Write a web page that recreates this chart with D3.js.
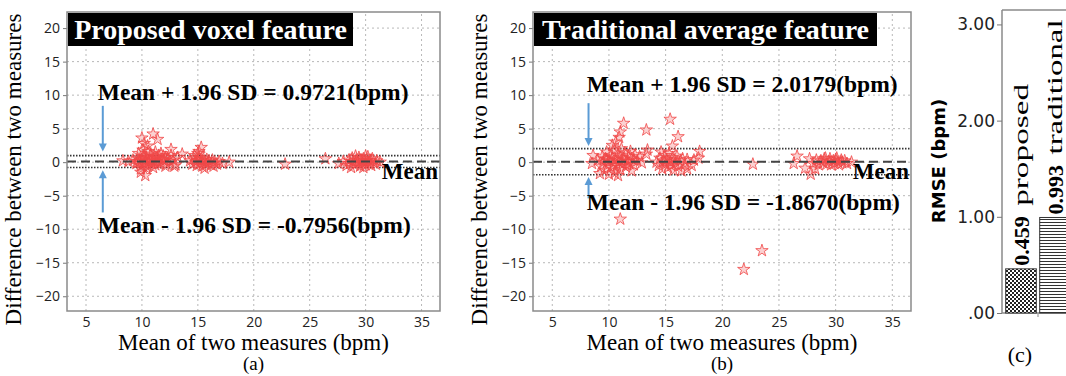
<!DOCTYPE html>
<html>
<head>
<meta charset="utf-8">
<script src="https://cdn.jsdelivr.net/npm/d3@7"></script>
<style>
  body { margin: 0; background: #fff; }
  svg { display: block; }
</style>
</head>
<body>
<div id="chart"></div>
<script>
// ---- data ----
const xTicks = [5, 10, 15, 20, 25, 30, 35];
const yTicks = [-20, -15, -10, -5, 0, 5, 10, 15, 20];

// proposed voxel feature: [mean of two measures, difference]
const proposedPoints = [
  [9.2,0.3],[9.5,-0.2],[9.6,0.6],[9.8,0.1],[9.9,-0.5],[10.0,0.4],[10.1,0.9],[10.2,-0.3],[10.3,0.2],
  [10.4,0.7],[10.5,-0.6],[10.6,0.0],[10.7,0.5],[10.8,1.2],[10.9,-0.2],[11.0,0.3],[11.1,0.8],[11.2,-0.4],
  [11.3,0.1],[11.4,0.6],[11.5,1.0],[11.6,-0.1],[11.8,0.4],[11.9,0.9],[12.0,0.2],[12.2,-0.3],[12.3,0.6],
  [12.5,0.1],[12.6,1.0],[12.8,0.3],[9.7,1.3],[10.1,1.8],[10.6,1.6],[11.2,1.5],[11.7,1.3],[10.4,-0.9],
  [9.9,-1.0],[11.0,-0.8],[12.1,-0.6],[12.9,-0.6],[13.2,0.7],[13.6,1.2],[12.6,1.9],[8.8,0.1],[8.3,0.2],
  [10.0,3.6],[10.2,2.8],[11.0,4.2],[11.4,3.4],[10.5,2.4],[10.3,-2.0],[9.9,-1.5],[13.0,-0.4],
  [9.6,0.0],[10.2,0.6],[10.8,0.2],[11.4,-0.2],[12.1,0.7],
  [14.3,0.2],[14.5,-0.3],[14.6,0.5],[14.8,0.0],[14.9,-0.5],[15.0,0.3],[15.1,0.7],[15.2,-0.2],[15.3,0.2],
  [15.4,-0.6],[15.5,0.5],[15.6,0.0],[15.7,-0.3],[15.8,0.4],[15.9,-0.1],[16.0,0.2],[16.2,-0.4],[16.3,0.3],
  [16.5,0.0],[16.7,-0.3],[16.9,0.1],[17.2,-0.2],[17.8,0.0],[15.0,1.3],[15.3,2.2],[15.1,1.6],[14.7,1.0],
  [15.6,-0.9],[16.4,-0.6],
  [22.8,-0.3],[26.4,0.5],
  [27.6,-0.2],[28.0,0.1],[28.3,-0.5],[28.5,0.3],[28.6,-0.2],[28.8,0.6],[28.9,0.0],[29.0,-0.4],[29.2,0.3],
  [29.3,-0.1],[29.4,0.7],[29.5,-0.6],[29.6,0.2],[29.7,-0.2],[29.8,0.5],[29.9,0.0],[30.0,-0.4],[30.1,0.3],
  [30.2,0.8],[30.3,-0.1],[30.4,0.2],[30.5,-0.5],[30.6,0.5],[30.7,0.0],[30.9,-0.3],[31.0,0.2],[31.3,0.0],
  [28.7,-0.8],[29.1,0.9],[30.0,0.9],[29.8,-0.8]
];

// traditional average feature
const traditionalPoints = [
  [8.5,-0.2],[8.6,1.0],[9.0,0.3],[9.3,-0.6],[9.4,0.8],[9.5,0.0],[9.6,-1.2],[9.7,0.5],[9.8,1.5],[9.9,-0.4],
  [10.0,0.2],[10.1,1.0],[10.2,-0.8],[10.3,0.6],[10.4,-0.1],[10.5,1.8],[10.5,-1.6],[10.6,0.3],[10.7,-0.5],
  [10.8,1.2],[10.9,0.0],[11.0,-1.1],[11.0,0.7],[11.1,2.0],[11.2,-0.3],[11.3,0.4],[11.4,1.4],[11.5,-0.7],
  [11.6,0.1],[11.7,0.9],[11.8,-0.2],[11.9,1.6],[12.0,0.5],[12.2,-0.4],[12.3,1.1],[12.5,0.2],[12.7,0.8],
  [12.9,-0.1],[13.3,1.2],[13.4,1.8],[10.3,2.5],[10.6,3.0],[10.9,3.7],[11.0,4.5],[11.3,5.8],[13.3,4.8],
  [11.0,-8.5],[10.0,-1.8],[10.8,-2.0],[9.2,-1.7],[12.0,-1.3],
  [9.8,0.4],[10.4,-0.5],[11.1,0.2],[11.6,-0.4],[12.2,0.3],
  [14.2,0.0],[14.4,-0.5],[14.5,0.6],[14.7,-1.0],[14.8,0.2],[14.9,1.0],[15.0,-0.3],[15.1,0.4],[15.2,-0.8],
  [15.3,1.3],[15.4,0.0],[15.5,-0.5],[15.6,0.7],[15.7,-1.2],[15.8,0.3],[15.9,-0.2],[16.0,0.9],[16.1,-0.6],
  [16.3,0.2],[16.4,-1.3],[16.5,0.5],[16.7,-0.3],[16.9,0.4],[17.3,-0.5],[17.5,0.3],[15.4,6.4],[16.1,3.8],
  [15.6,2.4],[14.6,1.5],[18.0,1.6],[17.9,0.6],[16.9,-1.0],
  [22.7,-0.3],[26.6,0.9],[26.3,-0.2],[27.8,-1.8],[27.3,-0.9],[27.7,0.5],[21.9,-16.0],[23.5,-13.2],
  [28.0,-0.2],[28.3,0.3],[28.5,-0.4],[28.7,0.2],[28.9,-0.1],[29.0,0.5],[29.2,-0.3],[29.4,0.1],[29.5,0.5],
  [29.6,-0.4],[29.8,0.2],[29.9,-0.2],[30.0,0.4],[30.2,0.0],[30.3,-0.4],[30.5,0.3],[30.6,-0.1],[30.8,0.2],
  [31.0,-0.2],[31.4,0.0],[28.2,-1.0],[29.1,0.6],[30.1,0.6]
];

const proposedStats = { upper: 0.9721, lower: -0.7956 };
const traditionalStats = { upper: 2.0179, lower: -1.8670 };

const rmseNames = ['proposed', 'traditional'];
const rmseValues = [0.459, 0.993];
const rmseTicks = [0, 1, 2, 3];

// ---- drawing ----
const serif = '"Liberation Serif", "Times New Roman", serif',
      sans = '"Open Sans", "DejaVu Sans", sans-serif',
      red = '#f04848',
      blue = '#5b9bd5';

const svg = d3.select('#chart').append('svg')
  .attr('width', 1066)
  .attr('height', 376);

svg.append('rect').attr('width', 1066).attr('height', 376).attr('fill', '#fff');

const star = d3.symbol().type(d3.symbolStar).size(48);

function blandAltman(opt) {
  const x = d3.scaleLinear().domain([3.3, 36.65]).range([opt.left, opt.right]),
        y = d3.scaleLinear().domain([-22.2, 22.4]).range([311, 12]),
        mean = (opt.stats.upper + opt.stats.lower) / 2,
        g = svg.append('g');

  // grid
  g.selectAll('.vgrid').data(xTicks).enter().append('line')
    .attr('x1', d => x(d)).attr('x2', d => x(d))
    .attr('y1', y.range()[0]).attr('y2', y.range()[1])
    .attr('stroke', '#b8b8b8').attr('stroke-dasharray', '2,3');
  g.selectAll('.hgrid').data(yTicks).enter().append('line')
    .attr('x1', opt.left).attr('x2', opt.right)
    .attr('y1', d => y(d)).attr('y2', d => y(d))
    .attr('stroke', '#b8b8b8').attr('stroke-dasharray', '2,3');

  // axes
  const xAxis = d3.axisBottom(x).tickValues(xTicks).tickSize(0).tickPadding(6),
        yAxis = d3.axisLeft(y).tickValues(yTicks).tickSize(4).tickPadding(3);
  g.append('g').attr('transform', 'translate(0,' + y.range()[0] + ')').call(xAxis)
    .call(a => a.select('.domain').remove());
  g.append('g').attr('transform', 'translate(' + opt.left + ',0)').call(yAxis)
    .call(a => a.select('.domain').remove());
  g.selectAll('.tick text').attr('font-family', sans).attr('font-size', 14).attr('fill', '#222');
  g.selectAll('.tick line').attr('stroke', '#777');

  // limits of agreement
  [opt.stats.upper, opt.stats.lower].forEach(v => {
    g.append('line')
      .attr('x1', opt.left).attr('x2', opt.right)
      .attr('y1', y(v)).attr('y2', y(v))
      .attr('stroke', '#333').attr('stroke-width', 1.6).attr('stroke-dasharray', '1.5,1.5');
  });

  // points
  g.selectAll('.pt').data(opt.points).enter().append('path')
    .attr('d', star)
    .attr('transform', d => 'translate(' + x(d[0]) + ',' + y(d[1]) + ')')
    .attr('fill', red)
    .attr('fill-opacity', 0.25)
    .attr('stroke', red)
    .attr('stroke-opacity', 0.9)
    .attr('stroke-width', 0.9);

  // mean line
  g.append('line')
    .attr('x1', opt.left).attr('x2', opt.right)
    .attr('y1', y(mean)).attr('y2', y(mean))
    .attr('stroke', '#444').attr('stroke-width', 2).attr('stroke-dasharray', '9,5');

  // frame
  g.append('rect')
    .attr('x', opt.left).attr('y', y.range()[1])
    .attr('width', opt.right - opt.left).attr('height', y.range()[0] - y.range()[1])
    .attr('fill', 'none').attr('stroke', '#8a8a8a').attr('stroke-width', 1.5);

  // title box
  g.append('rect')
    .attr('x', opt.left + 1).attr('y', 13)
    .attr('width', opt.titleWidth).attr('height', 33)
    .attr('fill', '#000');
  g.append('text')
    .attr('x', opt.left + 1 + opt.titleWidth / 2).attr('y', 39)
    .attr('text-anchor', 'middle')
    .attr('font-family', serif).attr('font-weight', 'bold').attr('font-size', 28)
    .attr('fill', '#fff')
    .text(opt.title);

  // arrows (pixel based so the head always ends on the target value)
  const arrow = (x0, from, to) => {
    const px = x(x0), p0 = y(from), p1 = y(to),
          dir = p1 > p0 ? 1 : -1;
    g.append('line')
      .attr('x1', px).attr('x2', px)
      .attr('y1', p0).attr('y2', p1 - dir * 6)
      .attr('stroke', blue).attr('stroke-width', 2);
    g.append('path')
      .attr('d', 'M' + (px - 4) + ',' + (p1 - dir * 8) + 'L' + (px + 4) + ',' + (p1 - dir * 8) +
        'L' + px + ',' + p1 + 'Z')
      .attr('fill', blue);
  };
  arrow(opt.arrowX, opt.arrowUp[0], opt.arrowUp[1]);
  arrow(opt.arrowX, opt.arrowDown[0], opt.arrowDown[1]);

  // annotations
  const ann = (txt, xv, yv) => g.append('text')
    .attr('x', x(xv)).attr('y', y(yv))
    .attr('font-family', serif).attr('font-weight', 'bold').attr('font-size', 23.5)
    .text(txt);
  ann('Mean + 1.96 SD = ' + opt.stats.upper.toFixed(4) + '(bpm)', opt.textX, opt.textUpY);
  ann('Mean - 1.96 SD = ' + opt.stats.lower.toFixed(4) + '(bpm)', opt.textX, opt.textLowY);

  g.append('text')
    .attr('x', opt.right - 2).attr('y', y(mean) + 17)
    .attr('text-anchor', 'end')
    .attr('font-family', serif).attr('font-weight', 'bold').attr('font-size', 23)
    .text('Mean');

  // axis titles
  g.append('text')
    .attr('transform', 'translate(' + (opt.left - 46) + ',' + ((y.range()[0] + y.range()[1]) / 2 + 8) + ') rotate(-90)')
    .attr('text-anchor', 'middle')
    .attr('font-family', serif).attr('font-size', 23)
    .text('Difference between two measures');
  g.append('text')
    .attr('x', (opt.left + opt.right) / 2).attr('y', 350)
    .attr('text-anchor', 'middle')
    .attr('font-family', serif).attr('font-size', 23)
    .text('Mean of two measures (bpm)');
  g.append('text')
    .attr('x', (opt.left + opt.right) / 2).attr('y', 370)
    .attr('text-anchor', 'middle')
    .attr('font-family', serif).attr('font-size', 19)
    .text(opt.tag);
}

blandAltman({
  left: 67, right: 440, points: proposedPoints, stats: proposedStats,
  title: 'Proposed voxel feature', titleWidth: 285, tag: '(a)',
  arrowX: 6.5, arrowUp: [8.4, 1.6], arrowDown: [-7.5, -1.2],
  textX: 6.05, textUpY: 9.3, textLowY: -10.6
});

blandAltman({
  left: 533, right: 911, points: traditionalPoints, stats: traditionalStats,
  title: 'Traditional average feature', titleWidth: 343, tag: '(b)',
  arrowX: 8.2, arrowUp: [8.8, 2.4], arrowDown: [-5.4, -2.2],
  textX: 8.05, textUpY: 10.4, textLowY: -7.2
});

// ---- panel (c): RMSE bars ----
const defs = svg.append('defs');
const checker = defs.append('pattern').attr('id', 'checker')
  .attr('width', 4).attr('height', 4).attr('patternUnits', 'userSpaceOnUse');
checker.append('rect').attr('width', 4).attr('height', 4).attr('fill', '#fff');
checker.append('rect').attr('width', 2).attr('height', 2).attr('fill', '#222');
checker.append('rect').attr('x', 2).attr('y', 2).attr('width', 2).attr('height', 2).attr('fill', '#222');
const hlines = defs.append('pattern').attr('id', 'hlines')
  .attr('width', 4).attr('height', 3).attr('patternUnits', 'userSpaceOnUse');
hlines.append('rect').attr('width', 4).attr('height', 3).attr('fill', '#fff');
hlines.append('rect').attr('width', 4).attr('height', 1).attr('fill', '#333');

const cx = d3.scaleBand().domain(rmseNames).range([1004, 1072]).paddingInner(0.1).paddingOuter(0.05),
      cy = d3.scaleLinear().domain([0, 3.15]).range([313, 10]);

const gc = svg.append('g');
gc.append('line').attr('x1', 1002).attr('x2', 1002).attr('y1', cy(3.15)).attr('y2', cy(0))
  .attr('stroke', '#8a8a8a').attr('stroke-width', 1.5);
gc.append('line').attr('x1', 1002).attr('x2', 1066).attr('y1', cy(3.15)).attr('y2', cy(3.15))
  .attr('stroke', '#8a8a8a').attr('stroke-width', 1.5);
gc.append('line').attr('x1', 1002).attr('x2', 1066).attr('y1', cy(0)).attr('y2', cy(0))
  .attr('stroke', '#8a8a8a').attr('stroke-width', 1.5);
gc.append('line').attr('x1', 1038).attr('x2', 1038).attr('y1', cy(0)).attr('y2', cy(0) + 4)
  .attr('stroke', '#8a8a8a');

const cAxis = d3.axisLeft(cy).tickValues(rmseTicks).tickSize(5).tickPadding(2)
  .tickFormat(d => d === 0 ? '.00' : d3.format('.2f')(d));
gc.append('g').attr('transform', 'translate(1002,0)').call(cAxis)
  .call(a => a.select('.domain').remove())
  .call(a => a.selectAll('.tick line').attr('stroke', '#777'))
  .call(a => a.selectAll('.tick text').attr('font-family', '"DejaVu Sans", sans-serif')
    .attr('font-size', 17).attr('fill', '#222'));

gc.selectAll('.bar').data(rmseValues).enter().append('rect')
  .attr('x', (d, i) => cx(rmseNames[i]))
  .attr('y', d => cy(d))
  .attr('width', cx.bandwidth())
  .attr('height', d => cy(0) - cy(d))
  .attr('fill', (d, i) => i === 0 ? 'url(#checker)' : 'url(#hlines)')
  .attr('stroke', '#333').attr('stroke-width', 1);

const nameLen = [122, 135];
rmseValues.forEach((v, i) => {
  const mx = cx(rmseNames[i]) + cx.bandwidth() / 2;
  gc.append('text')
    .attr('transform', 'translate(' + mx + ',' + (cy(v) - 3) + ') rotate(-90)')
    .attr('dominant-baseline', 'central')
    .attr('font-family', serif).attr('font-weight', 'bold').attr('font-size', 22)
    .text(v.toFixed(3));
  gc.append('text')
    .attr('transform', 'translate(' + mx + ',' + (cy(v) - 63) + ') rotate(-90)')
    .attr('dominant-baseline', 'central')
    .attr('font-family', serif).attr('font-size', 21)
    .attr('textLength', nameLen[i]).attr('lengthAdjust', 'spacingAndGlyphs')
    .text(rmseNames[i]);
});

gc.append('text')
  .attr('transform', 'translate(938,161) rotate(-90)')
  .attr('text-anchor', 'middle').attr('dominant-baseline', 'central')
  .attr('font-family', '"DejaVu Sans", sans-serif').attr('font-weight', 'bold').attr('font-size', 18)
  .text('RMSE (bpm)');
gc.append('text')
  .attr('x', 1020).attr('y', 362)
  .attr('text-anchor', 'middle')
  .attr('font-family', serif).attr('font-size', 22)
  .text('(c)');
</script>
</body>
</html>
